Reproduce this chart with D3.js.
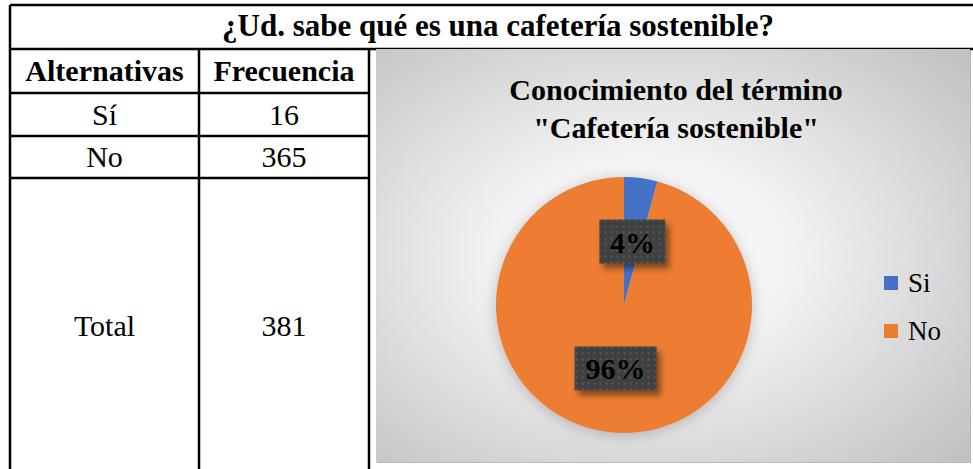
<!DOCTYPE html>
<html>
<head>
<meta charset="utf-8">
<script src="https://cdn.jsdelivr.net/npm/d3@7"></script>
<style>
  body { margin: 0; background: #fff; }
  svg { display: block; font-family: "Liberation Serif", "Times New Roman", serif; }
</style>
</head>
<body>
<div id="chart"></div>
<script>
// datos de la tabla y del grafico
var tituloTabla = '¿Ud. sabe qué es una cafetería sostenible?'
var encabezados = ['Alternativas', 'Frecuencia']
var alternativas = ['Sí', 'No']
var frecuencias = [16, 365]
var leyenda = ['Si', 'No']
var colores = ['#4472C4', '#ED7D31']
var tituloGrafico = ['Conocimiento  del término', '"Cafetería sostenible"']

var w = 973
var h = 469

var svg = d3.select('#chart')
    .append('svg')
    .attr('width', w)
    .attr('height', h);

var defs = svg.append('defs');

// fondo del grafico con degradado radial
var grad = defs.append('radialGradient')
    .attr('id', 'fondo')
    .attr('cx', '0.45').attr('cy', '0.5').attr('r', '0.72');
grad.append('stop').attr('offset', '0%').attr('stop-color', '#ffffff');
grad.append('stop').attr('offset', '35%').attr('stop-color', '#f2f2f2');
grad.append('stop').attr('offset', '100%').attr('stop-color', '#c2c2c2');

// patron punteado de las etiquetas
var pat = defs.append('pattern')
    .attr('id', 'puntos')
    .attr('width', 6).attr('height', 6)
    .attr('patternUnits', 'userSpaceOnUse');
pat.append('rect').attr('width', 6).attr('height', 6).attr('fill', '#404040');
pat.append('rect').attr('x', 2).attr('y', 2).attr('width', 2).attr('height', 2).attr('fill', '#585858');

var sombra = defs.append('filter').attr('id', 'sombra')
    .attr('x', '-20%').attr('y', '-20%').attr('width', '150%').attr('height', '160%');
sombra.append('feDropShadow')
    .attr('dx', 4).attr('dy', 5).attr('stdDeviation', 3)
    .attr('flood-color', '#000').attr('flood-opacity', 0.45);

var sombraPie = defs.append('filter').attr('id', 'sombraPie')
    .attr('x', '-20%').attr('y', '-20%').attr('width', '140%').attr('height', '140%');
sombraPie.append('feDropShadow')
    .attr('dx', 0).attr('dy', 2).attr('stdDeviation', 7)
    .attr('flood-color', '#000').attr('flood-opacity', 0.22);

// ---------------- tabla ----------------
var tabla = svg.append('g');
var colX = [10, 199, 369]
var filaY = [5, 49, 93, 136, 178, 480]
var total = d3.sum(frecuencias)

// lineas horizontales
tabla.selectAll('line.h')
    .data(filaY.slice(0, 5))
    .enter()
    .append('line')
    .attr('x1', colX[0])
    .attr('x2', (d, i) => i < 2 ? w + 5 : colX[2])
    .attr('y1', d => d).attr('y2', d => d)
    .attr('stroke', '#000').attr('stroke-width', 2.5);

// lineas verticales
tabla.append('line')
    .attr('x1', colX[0]).attr('x2', colX[0])
    .attr('y1', filaY[0]).attr('y2', h + 5)
    .attr('stroke', '#000').attr('stroke-width', 2.5);
colX.slice(1).forEach(function(x) {
    tabla.append('line')
        .attr('x1', x).attr('x2', x)
        .attr('y1', filaY[1]).attr('y2', h + 5)
        .attr('stroke', '#000').attr('stroke-width', 2.5);
});

tabla.append('text')
    .attr('x', 498).attr('y', 36)
    .attr('text-anchor', 'middle')
    .style('font-size', '31px').style('font-weight', 'bold')
    .text(tituloTabla);

var filas = [encabezados].concat(alternativas.map((a, i) => [a, frecuencias[i]]), [['Total', total]]);
filas.forEach(function(fila, i) {
    var y = (filaY[i + 1] + filaY[i + 2]) / 2 + 10;
    if (i === 3) y = 336;
    fila.forEach(function(v, j) {
        tabla.append('text')
            .attr('x', (colX[j] + colX[j + 1]) / 2)
            .attr('y', y)
            .attr('text-anchor', 'middle')
            .style('font-size', '30px')
            .style('font-weight', i === 0 ? 'bold' : 'normal')
            .text(v);
    });
});

// ---------------- grafico ----------------
var gx = 376, gy = 49, gw = 594, gh = 413
var graf = svg.append('g');
graf.append('rect')
    .attr('x', gx + 1).attr('y', gy + 1).attr('width', gw).attr('height', gh)
    .attr('fill', '#b8b8b8');
graf.append('rect')
    .attr('x', gx).attr('y', gy).attr('width', gw).attr('height', gh)
    .attr('fill', 'url(#fondo)');

graf.selectAll('text.titulo')
    .data(tituloGrafico)
    .enter()
    .append('text')
    .attr('x', 676)
    .attr('y', (d, i) => 100 + i * 38)
    .attr('text-anchor', 'middle')
    .style('font-size', '30px').style('font-weight', 'bold')
    .text(d => d);

var cx = 624, cy = 305, r = 128
var pie = d3.pie().sort(null).value(d => d);
var arc = d3.arc().innerRadius(0).outerRadius(r);
var arcs = pie(frecuencias);

var gPie = graf.append('g')
    .attr('transform', `translate(${cx},${cy})`);

gPie.append('g')
    .attr('filter', 'url(#sombraPie)')
    .selectAll('path')
    .data(arcs)
    .enter()
    .append('path')
    .attr('d', arc)
    .attr('fill', (d, i) => colores[i]);

// etiquetas de porcentaje
var etiquetas = gPie.selectAll('g.etq')
    .data(arcs)
    .enter()
    .append('g')
    .attr('class', 'etq')
    .attr('transform', d => `translate(${arc.centroid(d)})`);

etiquetas.each(function(d) {
    var g = d3.select(this);
    var txt = d3.format('.0%')(d.value / total);
    var bw = txt.length === 2 ? 66 : 82;
    var bh = 44;
    g.append('rect')
        .attr('x', -bw / 2).attr('y', -bh / 2)
        .attr('width', bw).attr('height', bh)
        .attr('fill', 'url(#puntos)')
        .attr('filter', 'url(#sombra)');
    g.append('text')
        .attr('y', 11)
        .attr('text-anchor', 'middle')
        .style('font-size', '30px').style('font-weight', 'bold')
        .attr('fill', '#000')
        .text(txt);
});

// leyenda
var ley = graf.selectAll('g.ley')
    .data(leyenda)
    .enter()
    .append('g')
    .attr('transform', (d, i) => `translate(884,${276 + i * 48})`);
ley.append('rect')
    .attr('width', 14).attr('height', 14)
    .attr('fill', (d, i) => colores[i]);
ley.append('text')
    .attr('x', 24).attr('y', 16)
    .style('font-size', '27px')
    .text(d => d);
</script>
</body>
</html>
